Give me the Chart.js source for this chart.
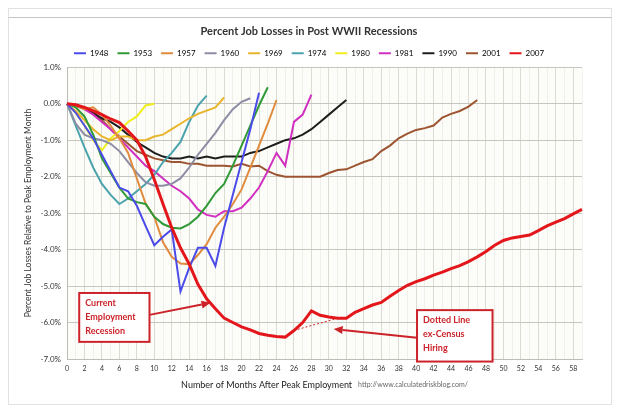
<!DOCTYPE html>
<html>
<head>
<meta charset="utf-8">
<title>Percent Job Losses in Post WWII Recessions</title>
<script src="https://cdn.jsdelivr.net/npm/chart.js@4.4.1/dist/chart.umd.min.js"></script>
<style>
  html, body { margin: 0; padding: 0; background: #fff; }
</style>
</head>
<body>
<canvas id="chart" width="619" height="413"></canvas>
<script>
// ---- data (percent change in payroll employment vs. peak month) ----
const months = [0,1,2,3,4,5,6,7,8,9,10,11,12,13,14,15,16,17,18,19,
                20,21,22,23,24,25,26,27,28,29,30,31,32,33,34,35,36,37,38,39,
                40,41,42,43,44,45,46,47,48,49,50,51,52,53,54,55,56,57,58,59];

const years = ['1948','1953','1957','1960','1969','1974','1980','1981','1990','2001','2007'];

const r1948 = [0,-0.25,-0.6,-0.95,-1.4,-1.85,-2.3,-2.4,-2.8,-3.35,-3.88,-3.65,-3.45,-5.15,-4.5,-3.95,-3.95,-4.45,-3.4,-2.5,-1.6,-0.7,0.3];
const r1953 = [0,-0.1,-0.35,-0.85,-1.5,-1.9,-2.3,-2.6,-2.7,-2.75,-3.1,-3.3,-3.4,-3.42,-3.3,-3.1,-2.8,-2.45,-2.2,-1.7,-1.15,-0.6,-0.05,0.45];
const r1957 = [0,-0.05,-0.15,-0.1,-0.3,-0.6,-0.95,-1.35,-2.05,-2.74,-3.1,-3.8,-4.2,-4.38,-4.4,-4.15,-3.85,-3.4,-3.1,-2.75,-2.35,-1.75,-1.15,-0.55,0.1];
const r1960 = [0,-0.55,-0.85,-0.95,-1.0,-1.1,-1.3,-1.6,-1.9,-2.15,-2.25,-2.25,-2.2,-2.05,-1.75,-1.4,-1.1,-0.8,-0.45,-0.15,0.05,0.15];
const r1969 = [0,-0.2,-0.45,-0.7,-0.9,-1.0,-0.9,-0.9,-1.0,-1.0,-0.9,-0.85,-0.7,-0.55,-0.4,-0.28,-0.19,-0.1,0.17];
const r1974 = [0,-0.6,-1.2,-1.75,-2.2,-2.5,-2.75,-2.6,-2.4,-2.2,-1.95,-1.6,-1.35,-1.05,-0.5,-0.05,0.22];
const r1980 = [0,-0.25,-0.6,-1.0,-1.28,-0.95,-0.75,-0.5,-0.35,-0.05,0.0];
const r1981 = [0,-0.05,-0.15,-0.3,-0.5,-0.7,-0.95,-1.2,-1.45,-1.7,-1.85,-2.05,-2.25,-2.4,-2.6,-2.9,-3.05,-3.1,-2.95,-2.95,-2.85,-2.6,-2.3,-1.85,-1.35,-1.7,-0.5,-0.3,0.25];
const r1990 = [0,-0.05,-0.15,-0.25,-0.4,-0.5,-0.65,-0.85,-1.05,-1.2,-1.35,-1.45,-1.5,-1.5,-1.45,-1.5,-1.45,-1.5,-1.45,-1.45,-1.45,-1.35,-1.3,-1.2,-1.1,-1.0,-0.95,-0.85,-0.7,-0.5,-0.3,-0.1,0.1];
const r2001 = [0,-0.05,-0.1,-0.25,-0.45,-0.7,-0.9,-1.1,-1.3,-1.4,-1.5,-1.55,-1.6,-1.6,-1.65,-1.65,-1.7,-1.7,-1.7,-1.72,-1.65,-1.72,-1.7,-1.85,-1.95,-2.0,-2.0,-2.0,-2.0,-2.0,-1.9,-1.82,-1.8,-1.7,-1.6,-1.52,-1.3,-1.15,-0.95,-0.82,-0.72,-0.67,-0.6,-0.38,-0.28,-0.2,-0.08,0.1];
const r2007 = [0,-0.03,-0.1,-0.2,-0.3,-0.42,-0.52,-0.75,-1.0,-1.45,-2.08,-2.75,-3.4,-3.95,-4.4,-4.95,-5.35,-5.62,-5.88,-6.0,-6.12,-6.2,-6.3,-6.35,-6.38,-6.4,-6.22,-6.0,-5.68,-5.8,-5.85,-5.88,-5.88,-5.72,-5.62,-5.52,-5.45,-5.28,-5.12,-4.98,-4.88,-4.8,-4.7,-4.62,-4.52,-4.44,-4.33,-4.2,-4.05,-3.88,-3.75,-3.68,-3.64,-3.6,-3.48,-3.35,-3.25,-3.15,-3.02,-2.9];

// 2007 excluding temporary census hiring (dotted)
const exCensusMonths = [26,27,28,29,30,31];
const exCensusValues = [-6.22,-6.15,-6.08,-6.02,-5.95,-5.88];

const yTicks = [1,0,-1,-2,-3,-4,-5,-6,-7];

const seriesColors = ['#4b4bea','#2f9a36','#e08b3e','#8c8ca4','#e9b52c','#4ba3ad','#f0ee1c','#d12fbf','#1e1e1e','#9c5530','#e3161b'];
const seriesValues = [r1948,r1953,r1957,r1960,r1969,r1974,r1980,r1981,r1990,r2001,r2007];

// callout boxes, placed in data units (month, percent)
const callouts = [
  { lines: ['Current', 'Employment', 'Recession'], box: [1.4, -5.19, 9.45, -6.53], from: [9.45, -5.79], to: [16.45, -5.46] },
  { lines: ['Dotted Line', 'ex-Census', 'Hiring'], box: [40.1, -5.66, 48.75, -7.07], from: [40.1, -6.42], to: [30.55, -6.18] }
];

const RED = '#cc2229';

// ---- plugins ----
const framePlugin = {
  id: 'frame',
  beforeDraw(chart) {
    const { ctx, chartArea: a } = chart;
    ctx.save();
    ctx.fillStyle = '#fff';
    ctx.fillRect(0, 0, chart.width, chart.height);
    ctx.strokeStyle = '#e2e2e2';
    ctx.lineWidth = 1;
    ctx.strokeRect(8.5, 8.5, 603, 396);
    ctx.strokeStyle = '#c4c4c4';
    ctx.beginPath();
    ctx.moveTo(8.5, 17.5); ctx.lineTo(611.5, 17.5);
    ctx.stroke();
    ctx.fillStyle = '#fcfcf8';
    ctx.fillRect(a.left, a.top, a.right - a.left, a.bottom - a.top);
    ctx.restore();
  },
  afterDraw(chart) {
    const { ctx, chartArea: a } = chart;
    ctx.save();
    // y axis title
    ctx.translate(28, (a.top + a.bottom) / 2);
    ctx.rotate(-Math.PI / 2);
    ctx.fillStyle = '#333';
    ctx.font = '8.5px Lato';
    ctx.textAlign = 'center';
    ctx.textBaseline = 'middle';
    ctx.fillText('Percent Job Losses Relative to Peak Employment Month', 0, 0);
    ctx.restore();

    // x axis title + source url
    ctx.save();
    const t1 = 'Number of Months After Peak Employment';
    const t2 = 'http://www.calculatedriskblog.com/';
    ctx.font = '9px Lato';
    const w1 = ctx.measureText(t1).width;
    ctx.font = '7px Lato';
    const w2 = ctx.measureText(t2).width;
    let x0 = (a.left + a.right) / 2 - (w1 + 6 + w2) / 2;
    ctx.textBaseline = 'middle';
    ctx.fillStyle = '#222';
    ctx.font = '9px Lato';
    ctx.fillText(t1, x0, 385);
    ctx.fillStyle = '#666';
    ctx.font = '7px Lato';
    ctx.fillText(t2, x0 + w1 + 6, 385);
    ctx.restore();
  }
};

const calloutPlugin = {
  id: 'callouts',
  afterDatasetsDraw(chart) {
    const { ctx, scales: { x, y } } = chart;
    ctx.save();
    callouts.forEach(c => {
      const bx0 = x.getPixelForValue(c.box[0]), by0 = y.getPixelForValue(c.box[1]);
      const bx1 = x.getPixelForValue(c.box[2]), by1 = y.getPixelForValue(c.box[3]);
      ctx.fillStyle = '#fff';
      ctx.fillRect(bx0, by0, bx1 - bx0, by1 - by0);
      ctx.strokeStyle = RED;
      ctx.lineWidth = 2;
      ctx.strokeRect(bx0, by0, bx1 - bx0, by1 - by0);

      ctx.fillStyle = RED;
      ctx.font = 'bold 9px Lato';
      ctx.textBaseline = 'middle';
      c.lines.forEach((t, i) => ctx.fillText(t, bx0 + 6, by0 + 10 + i * 14));

      // arrow
      const fx = x.getPixelForValue(c.from[0]), fy = y.getPixelForValue(c.from[1]);
      const tx = x.getPixelForValue(c.to[0]), ty = y.getPixelForValue(c.to[1]);
      const ang = Math.atan2(ty - fy, tx - fx);
      const len = 9, half = 4;
      ctx.beginPath();
      ctx.moveTo(fx, fy);
      ctx.lineTo(tx - Math.cos(ang) * len, ty - Math.sin(ang) * len);
      ctx.stroke();
      ctx.beginPath();
      ctx.moveTo(tx, ty);
      ctx.lineTo(tx - Math.cos(ang) * len - Math.sin(ang) * half, ty - Math.sin(ang) * len + Math.cos(ang) * half);
      ctx.lineTo(tx - Math.cos(ang) * len + Math.sin(ang) * half, ty - Math.sin(ang) * len - Math.cos(ang) * half);
      ctx.closePath();
      ctx.fill();
    });
    ctx.restore();
  }
};

// ---- chart ----
Chart.defaults.font.family = 'Lato';

const datasets = years.map((yr, i) => ({
  label: yr,
  data: seriesValues[i],
  borderColor: seriesColors[i],
  backgroundColor: seriesColors[i],
  borderWidth: yr === '2007' ? 3 : 2,
  pointRadius: 0,
  tension: 0,
  order: yr === '2007' ? -1 : 0
}));

datasets.push({
  label: 'ex-Census',
  data: exCensusMonths.map((m, i) => ({ x: m, y: exCensusValues[i] })),
  borderColor: RED,
  borderWidth: 1,
  borderDash: [2, 2],
  pointRadius: 0,
  order: -2
});

const ctx = document.getElementById('chart');
new Chart(ctx, {
  type: 'line',
  data: { labels: months, datasets: datasets },
  options: {
    responsive: false,
    animation: false,
    devicePixelRatio: 1,
    layout: { padding: { left: 36, right: 37, top: 0, bottom: 0 } },
    plugins: {
      title: {
        display: true,
        text: 'Percent Job Losses in Post WWII Recessions',
        color: '#333',
        font: { size: 11, weight: 'bold' },
        padding: { top: 25, bottom: 2 }
      },
      legend: {
        position: 'top',
        labels: {
          boxWidth: 12,
          boxHeight: 2,
          padding: 9,
          color: '#333',
          font: { size: 8 },
          generateLabels: chart => chart.data.datasets
            .map((ds, i) => ({ text: ds.label, fillStyle: ds.borderColor, strokeStyle: ds.borderColor, lineWidth: 0, hidden: false, datasetIndex: i }))
            .filter(item => item.text !== 'ex-Census')
        }
      },
      tooltip: { enabled: false }
    },
    scales: {
      x: {
        afterFit: scale => { scale.height = 54; },
        grid: {
          color: c => (c.index % 2 === 0 ? '#dcdcd3' : 'rgba(0,0,0,0.05)'),
          drawTicks: false
        },
        border: { color: '#bdbdb5' },
        ticks: {
          autoSkip: false,
          maxRotation: 0,
          padding: 6,
          color: '#333',
          font: { size: 7 },
          callback: (val, idx) => (idx % 2 === 0 ? months[idx] : '')
        }
      },
      y: {
        min: -7,
        max: 1,
        afterFit: scale => { scale.width = 31; },
        afterBuildTicks: scale => { scale.ticks = yTicks.map(v => ({ value: v })); },
        grid: { color: '#c6c6be', drawTicks: false },
        border: { color: '#bdbdb5' },
        ticks: {
          padding: 6,
          color: '#333',
          font: { size: 8 },
          callback: v => v.toFixed(1) + '%'
        }
      }
    }
  },
  plugins: [framePlugin, calloutPlugin]
});
</script>
</body>
</html>
